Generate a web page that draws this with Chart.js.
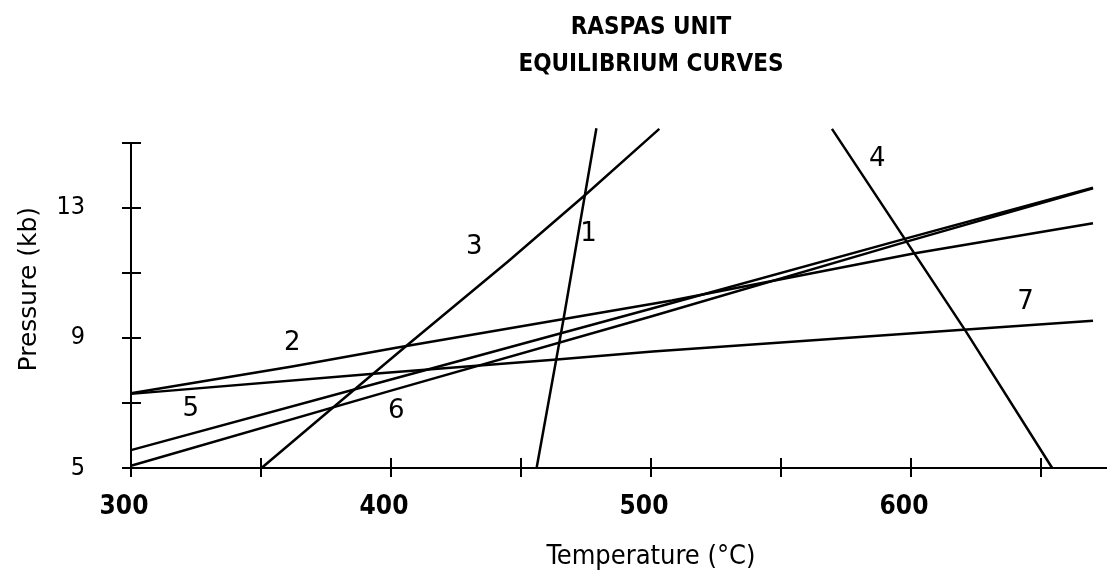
<!DOCTYPE html>
<html>
<head>
<meta charset="utf-8">
<title>Raspas unit equilibrium curves</title>
<script src="https://cdn.jsdelivr.net/npm/chart.js@4.4.0/dist/chart.umd.min.js"></script>
<style>
  html, body { margin: 0; padding: 0; background: #fff; overflow: hidden; }
  #wrap { width: 1107px; height: 570px; overflow: hidden; }
</style>
</head>
<body>
<div id="wrap"><canvas id="equilibriumChart" width="1186" height="570"></canvas></div>
<script>
// reaction curves, temperature (C) vs pressure (kb)
var curve1_t = [456, 466.3, 479];
var curve1_p = [5, 9.55, 15.45];
var curve2_t = [300, 362, 402, 508, 601, 670];
var curve2_p = [7.3, 8.12, 8.7, 10.15, 11.6, 12.53];
var curve3_t = [350.2, 376.8, 407, 445, 475, 503.2];
var curve3_p = [5, 6.8, 8.83, 11.35, 13.42, 15.43];
var curve4_t = [569.6, 597.4, 620.8, 654.3];
var curve4_p = [15.43, 12.07, 9.24, 5];
var curve5_t = [300, 400, 500, 600, 670];
var curve5_p = [5.55, 7.72, 9.9, 12.1, 13.62];
var curve6_t = [300, 400, 500, 600, 670];
var curve6_p = [5.07, 7.38, 9.66, 12.0, 13.6];
var curve7_t = [300, 394.5, 463.8, 500.7, 614.5, 670];
var curve7_p = [7.28, 7.91, 8.34, 8.58, 9.22, 9.53];

var label_text = ["1", "2", "3", "4", "5", "6", "7"];
var label_t = [476, 362, 432, 587, 323, 402, 644];
var label_p = [12.2, 8.85, 11.8, 14.5, 6.8, 6.75, 10.1];

var x_tick_labels = [300, 400, 500, 600];
var y_tick_labels = [5, 9, 13];

var condensed = '"DejaVu Sans Condensed", "DejaVu Sans", sans-serif';

function toPoints(ts, ps) {
  var pts = [];
  for (var i = 0; i < ts.length; i++) {
    pts.push({ x: ts[i], y: ps[i] });
  }
  return pts;
}

function curve(ts, ps) {
  return {
    data: toPoints(ts, ps),
    borderColor: "#000",
    borderWidth: 2.5,
    pointRadius: 0,
    tension: 0,
    fill: false,
    clip: false
  };
}

var curveLabels = {
  id: "curveLabels",
  afterDatasetsDraw: function(chart) {
    var ctx = chart.ctx;
    var xs = chart.scales.x;
    var ys = chart.scales.y;
    ctx.save();
    ctx.font = '26px "DejaVu Sans"';
    ctx.fillStyle = "#000";
    ctx.textAlign = "center";
    ctx.textBaseline = "middle";
    for (var i = 0; i < label_text.length; i++) {
      ctx.fillText(label_text[i], xs.getPixelForValue(label_t[i]), ys.getPixelForValue(label_p[i]));
    }
    // y axis title sits a little above the middle of the axis
    ctx.translate(29, ys.getPixelForValue(10.5));
    ctx.rotate(-Math.PI / 2);
    ctx.font = '25px "DejaVu Sans"';
    ctx.fillText("Pressure (kb)", 0, 0);
    ctx.restore();
  }
};

// tick marks cross the axis lines in the original
var innerTicks = {
  id: "innerTicks",
  afterDraw: function(chart) {
    var ctx = chart.ctx;
    var area = chart.chartArea;
    var xs = chart.scales.x;
    var ys = chart.scales.y;
    ctx.save();
    ctx.strokeStyle = "#000";
    ctx.lineWidth = 2;
    ctx.beginPath();
    xs.ticks.forEach(function(t) {
      var px = xs.getPixelForValue(t.value);
      ctx.moveTo(px, area.bottom);
      ctx.lineTo(px, area.bottom - 10);
    });
    ys.ticks.forEach(function(t) {
      var py = ys.getPixelForValue(t.value);
      ctx.moveTo(area.left, py);
      ctx.lineTo(area.left + 10, py);
    });
    ctx.stroke();
    ctx.restore();
  }
};

var ctx = document.getElementById("equilibriumChart");
var myChart = new Chart(ctx, {
  type: "line",
  data: {
    datasets: [
      curve(curve1_t, curve1_p),
      curve(curve2_t, curve2_p),
      curve(curve3_t, curve3_p),
      curve(curve4_t, curve4_p),
      curve(curve5_t, curve5_p),
      curve(curve6_t, curve6_p),
      curve(curve7_t, curve7_p)
    ]
  },
  options: {
    responsive: false,
    animation: false,
    layout: { padding: 0 },
    plugins: {
      legend: { display: false },
      tooltip: { enabled: false },
      title: {
        display: true,
        fullSize: false,
        text: ["RASPAS UNIT", "EQUILIBRIUM CURVES"],
        color: "#000",
        font: { family: condensed, weight: "bold", size: 24, lineHeight: 1.56 },
        padding: { top: 9, bottom: 59 }
      }
    },
    scales: {
      x: {
        type: "linear",
        min: 300,
        max: 700,
        afterFit: function(scale) { scale.height = 102; },
        border: { display: true, color: "#000", width: 2 },
        grid: { drawOnChartArea: false, drawTicks: true, tickLength: 9, lineWidth: 2, color: "#000" },
        ticks: {
          stepSize: 50,
          autoSkip: false,
          maxRotation: 0,
          padding: 15,
          labelOffset: -7,
          color: "#000",
          font: { family: condensed, weight: "bold", size: 26 },
          callback: function(v) { return x_tick_labels.indexOf(v) >= 0 ? String(v) : ""; }
        },
        title: {
          display: true,
          text: "Temperature (°C)",
          color: "#000",
          font: { family: condensed, size: 27, lineHeight: 1.0 },
          padding: { top: 0, bottom: 0 }
        }
      },
      y: {
        type: "linear",
        min: 5,
        max: 15,
        afterFit: function(scale) { scale.width = 131; },
        border: { display: true, color: "#000", width: 2 },
        grid: { drawOnChartArea: false, drawTicks: true, tickLength: 9, lineWidth: 2, color: "#000" },
        ticks: {
          stepSize: 2,
          autoSkip: false,
          padding: 37,
          color: "#000",
          font: { family: condensed, size: 25 },
          callback: function(v) { return y_tick_labels.indexOf(v) >= 0 ? String(v) : ""; }
        },
        title: { display: false }
      }
    }
  },
  plugins: [curveLabels, innerTicks]
});
</script>
</body>
</html>
